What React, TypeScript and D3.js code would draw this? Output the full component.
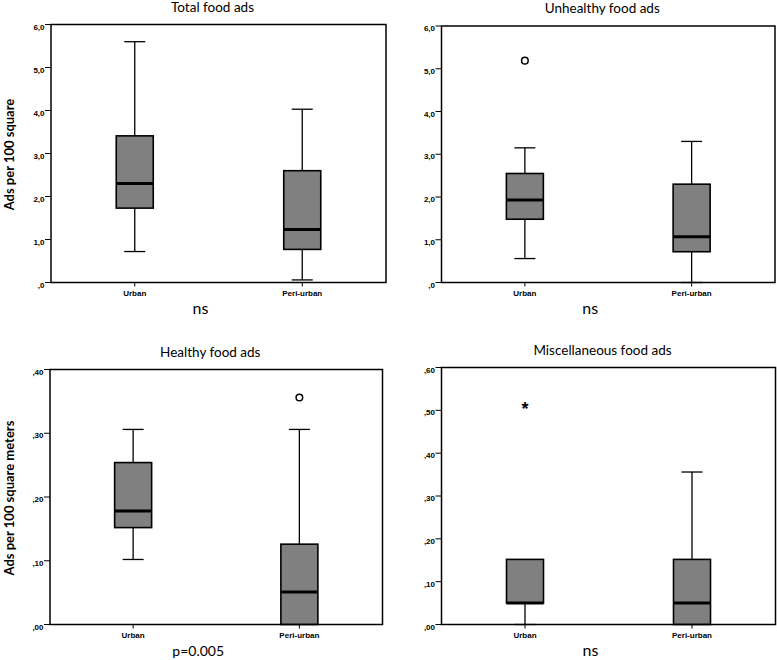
import React from "react";
import * as d3 from "d3";

// ---- data ----
const groups = ["Urban", "Peri-urban"];

// [lowerWhisker, Q1, median, Q3, upperWhisker]
const totalFood = [
  [0.72, 1.73, 2.3, 3.41, 5.6],
  [0.06, 0.77, 1.23, 2.6, 4.03],
];
const totalOutliers: number[][] = [[], []];

const unhealthyFood = [
  [0.56, 1.48, 1.93, 2.55, 3.15],
  [0.0, 0.72, 1.07, 2.3, 3.3],
];
const unhealthyOutliers: number[][] = [[5.19], []];

const healthyFood = [
  [0.102, 0.152, 0.178, 0.254, 0.306],
  [0.0, 0.0, 0.051, 0.126, 0.306],
];
const healthyOutliers: number[][] = [[], [0.356]];

const miscFood = [
  [0.0, 0.05, 0.05, 0.152, 0.152],
  [0.0, 0.0, 0.05, 0.152, 0.356],
];
const miscExtremes: number[][] = [[0.508], []];

const titles = ["Total food ads", "Unhealthy food ads", "Healthy food ads", "Miscellaneous food ads"];
const notes = ["ns", "ns", "p=0.005", "ns"];
const yTitles = ["Ads per 100 square", "", "Ads per 100 square meters", ""];
const yTicksTop = [0, 1, 2, 3, 4, 5, 6];
const yTicksHealthy = [0, 0.1, 0.2, 0.3, 0.4];
const yTicksMisc = [0, 0.1, 0.2, 0.3, 0.4, 0.5, 0.6];

// ---- layout ----
type Panel = {
  left: number; right: number; top: number; bottom: number;
  max: number; ticks: number[]; decimals: number;
  stats: number[][]; outliers: number[][]; extremes: number[][];
  title: string; note: string; yTitle: string;
};

const panels: Panel[] = [
  { left: 51, right: 386, top: 24.5, bottom: 282.5, max: 6, ticks: yTicksTop, decimals: 1,
    stats: totalFood, outliers: totalOutliers, extremes: [[], []], title: titles[0], note: notes[0], yTitle: yTitles[0] },
  { left: 441.5, right: 775, top: 26, bottom: 282.5, max: 6, ticks: yTicksTop, decimals: 1,
    stats: unhealthyFood, outliers: unhealthyOutliers, extremes: [[], []], title: titles[1], note: notes[1], yTitle: yTitles[1] },
  { left: 50, right: 382.5, top: 369.5, bottom: 624.5, max: 0.4, ticks: yTicksHealthy, decimals: 2,
    stats: healthyFood, outliers: healthyOutliers, extremes: [[], []], title: titles[2], note: notes[2], yTitle: yTitles[2] },
  { left: 441.5, right: 775.5, top: 367.5, bottom: 624.5, max: 0.6, ticks: yTicksMisc, decimals: 2,
    stats: miscFood, outliers: [[], []], extremes: miscExtremes, title: titles[3], note: notes[3], yTitle: yTitles[3] },
];

const fmt = (v: number, d: number) => {
  const s = v.toFixed(d).replace(".", ",");
  return s.startsWith("0,") ? s.slice(1) : s;
};

const titleFont = "Lato, 'Open Sans', sans-serif";
const smallFont = "'Liberation Sans', Arial, sans-serif";

function BoxPanel({ p }: { p: Panel }) {
  const y = d3.scaleLinear().domain([0, p.max]).range([p.bottom, p.top]);
  const x = d3.scalePoint<string>().domain(groups).range([p.left, p.right]).padding(0.5);
  const boxW = 37;
  const capW = 21;
  const cx = (p.left + p.right) / 2;
  const cy = (p.top + p.bottom) / 2;
  return (
    <g>
      <text x={cx - 6} y={Math.max(p.top - 13, 12)} textAnchor="middle" fontFamily={titleFont} fontSize={13.5} fill="#000">
        {p.title}
      </text>
      {p.yTitle && (
        <text
          transform={`translate(${13.5},${cy + 1}) rotate(-90)`}
          textAnchor="middle"
          fontFamily={titleFont}
          fontWeight="bold"
          fontSize={13}
          fill="#000"
        >
          {p.yTitle}
        </text>
      )}
      {p.ticks.map((t) => (
        <g key={t}>
          <line x1={p.left - 6} x2={p.left} y1={y(t)} y2={y(t)} stroke="#000" strokeWidth={1} />
          <text x={p.left - 6.5} y={y(t) + 5} textAnchor="end" fontFamily={smallFont} fontWeight="bold" fontSize={8} fill="#000">
            {fmt(t, p.decimals)}
          </text>
        </g>
      ))}
      {groups.map((g, i) => {
        const gx = x(g)!;
        const [lo, q1, med, q3, hi] = p.stats[i];
        return (
          <g key={g}>
            <line x1={gx} x2={gx} y1={p.bottom} y2={p.bottom + 4} stroke="#000" strokeWidth={1} />
            <text x={gx} y={p.bottom + 13.5} textAnchor="middle" fontFamily={smallFont} fontWeight="bold" fontSize={8} fill="#000">
              {g}
            </text>
            {/* whiskers */}
            <line x1={gx} x2={gx} y1={y(hi)} y2={y(q3)} stroke="#000" strokeWidth={1.3} />
            <line x1={gx} x2={gx} y1={y(q1)} y2={y(lo)} stroke="#000" strokeWidth={1.3} />
            {hi > q3 && (
              <line x1={gx - capW / 2} x2={gx + capW / 2} y1={y(hi)} y2={y(hi)} stroke="#000" strokeWidth={1.3} />
            )}
            {lo < q1 && (
              <line x1={gx - capW / 2} x2={gx + capW / 2} y1={y(lo)} y2={y(lo)} stroke="#000" strokeWidth={1.3} />
            )}
            <rect
              x={gx - boxW / 2}
              y={y(q3)}
              width={boxW}
              height={y(q1) - y(q3)}
              fill="#808080"
              stroke="#000"
              strokeWidth={1.6}
            />
            <line x1={gx - boxW / 2} x2={gx + boxW / 2} y1={y(med)} y2={y(med)} stroke="#000" strokeWidth={3} />
            {p.outliers[i].map((o, k) => (
              <circle key={k} cx={gx} cy={y(o)} r={3.3} fill="#fff" stroke="#000" strokeWidth={1.5} />
            ))}
            {p.extremes[i].map((o, k) => (
              <text key={k} x={gx} y={y(o) + 8} textAnchor="middle" fontFamily={smallFont} fontWeight="bold" fontSize={18} fill="#000">
                *
              </text>
            ))}
          </g>
        );
      })}
      <rect
        x={p.left}
        y={p.top}
        width={p.right - p.left}
        height={p.bottom - p.top}
        fill="none"
        stroke="#000"
        strokeWidth={1.5}
      />
      <text x={cx - 18} y={p.bottom + 31} textAnchor="middle" fontFamily={titleFont} fontSize={p.note === "ns" ? 16 : 14} fill="#000">
        {p.note}
      </text>
    </g>
  );
}

export default function App() {
  return (
    <svg
      width={777}
      height={660}
      style={{ position: "absolute", left: 0, top: 0, background: "#fff" }}
    >
      <rect width={777} height={660} fill="#fff" />
      {panels.map((p, i) => (
        <BoxPanel key={i} p={p} />
      ))}
    </svg>
  );
}
